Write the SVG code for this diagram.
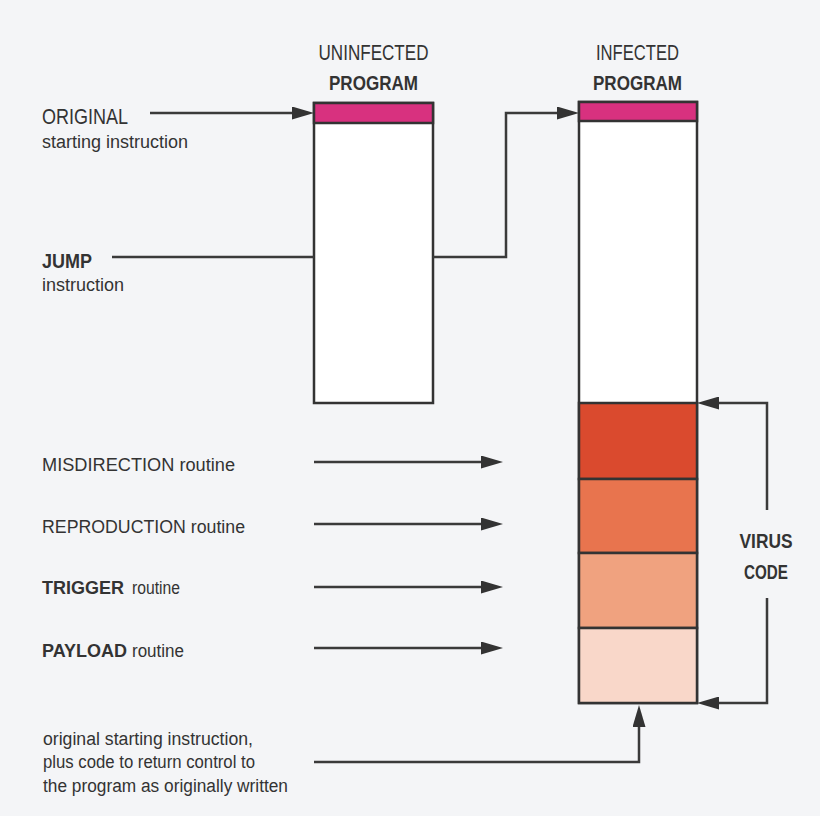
<svg xmlns="http://www.w3.org/2000/svg" width="820" height="816" viewBox="0 0 820 816">
<style>
text{font-family:"Liberation Sans",Arial,sans-serif;fill:#333;}
.hd{font-size:22px;}
.hb{font-size:21px;font-weight:bold;}
.lb{font-size:18px;}
.bd{font-weight:bold;}
.box{stroke:#333;stroke-width:2.5;}
.ln{fill:none;stroke:#3a3a3a;stroke-width:2.5;}
</style>
<defs>
<marker id="ah" markerUnits="userSpaceOnUse" markerWidth="22" markerHeight="13" refX="14" refY="6.5" orient="auto">
<path d="M0,0 L22,6.5 L0,13 z" fill="#333"/>
</marker>
</defs>
<rect x="0" y="0" width="820" height="816" fill="#f4f5f7"/>

<g id="uninfected">
<text class="hd" x="373.5" y="60" text-anchor="middle" textLength="110" lengthAdjust="spacingAndGlyphs">UNINFECTED</text>
<text class="hb" x="373.5" y="90" text-anchor="middle" textLength="89" lengthAdjust="spacingAndGlyphs">PROGRAM</text>
<rect class="box" x="314" y="103" width="119" height="300" fill="#ffffff"/>
<rect class="box" x="314" y="103" width="119" height="20" fill="#d8317f"/>
</g>

<g id="infected">
<text class="hd" x="637.5" y="60" text-anchor="middle" textLength="83" lengthAdjust="spacingAndGlyphs">INFECTED</text>
<text class="hb" x="637.5" y="90" text-anchor="middle" textLength="89" lengthAdjust="spacingAndGlyphs">PROGRAM</text>
<rect class="box" x="579" y="102" width="118" height="601" fill="#ffffff"/>
<rect class="box" x="579" y="102" width="118" height="19" fill="#d8317f"/>
<rect class="box" x="579" y="403" width="118" height="76" fill="#da4a2e"/>
<rect class="box" x="579" y="479" width="118" height="74" fill="#e8744e"/>
<rect class="box" x="579" y="553" width="118" height="75" fill="#f0a27f"/>
<rect class="box" x="579" y="628" width="118" height="75" fill="#f9d7c9"/>
</g>

<g id="virus-code">
<text class="hb" x="766" y="548" text-anchor="middle" textLength="53" lengthAdjust="spacingAndGlyphs">VIRUS</text>
<text class="hb" x="766" y="579" text-anchor="middle" textLength="44" lengthAdjust="spacingAndGlyphs">CODE</text>
</g>

<g id="original">
<text class="hd" x="42" y="124" textLength="86" lengthAdjust="spacingAndGlyphs">ORIGINAL</text>
<text class="lb" x="42" y="148">starting instruction</text>
</g>

<g id="jump">
<text class="hb bd" x="42" y="268" textLength="50" lengthAdjust="spacingAndGlyphs">JUMP</text>
<text class="lb" x="42" y="291">instruction</text>
</g>

<g id="misdirection">
<text class="lb" x="42" y="471" textLength="193" lengthAdjust="spacingAndGlyphs">MISDIRECTION routine</text>
</g>

<g id="reproduction">
<text class="lb" x="42" y="533" textLength="203" lengthAdjust="spacingAndGlyphs">REPRODUCTION routine</text>
</g>

<g id="trigger">
<text class="lb" x="42" y="594"><tspan class="bd">TRIGGER</tspan></text>
<text class="lb" x="132" y="594" textLength="48" lengthAdjust="spacingAndGlyphs">routine</text>
</g>

<g id="payload">
<text class="lb" x="42" y="657"><tspan class="bd">PAYLOAD</tspan></text>
<text class="lb" x="132" y="657" textLength="52" lengthAdjust="spacingAndGlyphs">routine</text>
</g>

<g id="return-code">
<text class="lb" x="43" y="745" textLength="210" lengthAdjust="spacingAndGlyphs">original starting instruction,</text>
<text class="lb" x="43" y="768" textLength="212" lengthAdjust="spacingAndGlyphs">plus code to return control to</text>
<text class="lb" x="43" y="792" textLength="245" lengthAdjust="spacingAndGlyphs">the program as originally written</text>
</g>

<g id="connectors">
<path class="ln" d="M150,113 H306" marker-end="url(#ah)"/>
<path class="ln" d="M112,257 H314"/>
<path class="ln" d="M433,257 H506 V113 H571" marker-end="url(#ah)"/>
<path class="ln" d="M314,462 H495" marker-end="url(#ah)"/>
<path class="ln" d="M314,524 H495" marker-end="url(#ah)"/>
<path class="ln" d="M314,587 H495" marker-end="url(#ah)"/>
<path class="ln" d="M314,648 H495" marker-end="url(#ah)"/>
<path class="ln" d="M314,762 H639 V713" marker-end="url(#ah)"/>
<path class="ln" d="M767,510 V403 H705" marker-end="url(#ah)"/>
<path class="ln" d="M767,598 V703 H705" marker-end="url(#ah)"/>
</g>
</svg>
